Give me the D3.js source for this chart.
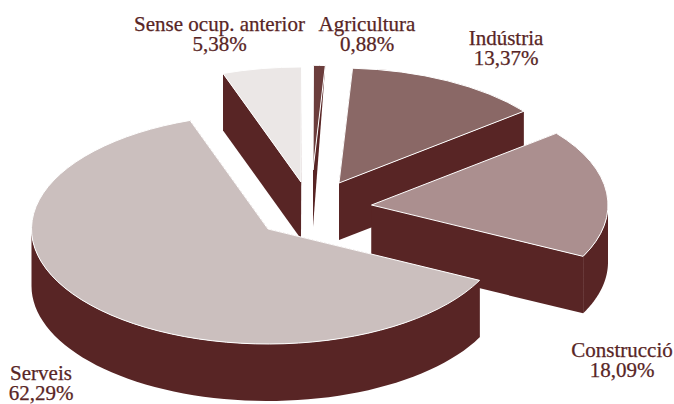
<!DOCTYPE html>
<html><head><meta charset="utf-8">
<script src="https://cdn.jsdelivr.net/npm/d3@7"></script>
<style>html,body{margin:0;padding:0;background:#fff}svg{display:block}</style>
</head><body><svg id="c" width="674" height="404"></svg>
<script>
const categories = ["Sense ocup. anterior","Agricultura","Indústria","Construcció","Serveis"];
const values = [5.38,0.88,13.37,18.09,62.29];
const valueLabels = ["5,38%","0,88%","13,37%","18,09%","62,29%"];
const colors = ["#ebe7e6","#6b3d3c","#8a6866","#ab8f8f","#cbbfbe"];
const sideColor = "#582525";
const apexX = [301,313,339,371.5,268];
const apexY = [182,170,183,205,229];
const radiusScale = [1,0.91,1,1,1];
const rimDepth = [57,0,57,57,57];
const labelX = [219.5,367,506,622,41];
const labelY = [31,31,45,357,380];

const RX=236.5, RY=115, DEPTH=57, START=-19.25*Math.PI/180;
const svg=d3.select("#c");
const arcs=d3.pie().sort(null).startAngle(START).endAngle(START+2*Math.PI)(values);
const arcGen=d3.arc().innerRadius(0).outerRadius(RX);
const px=(i,a)=>apexX[i]+radiusScale[i]*RX*Math.sin(a), py=(i,a)=>apexY[i]-radiusScale[i]*RY*Math.cos(a);
const line=d3.line();
arcs.forEach((d,i)=>{
  const g=svg.append("g");
  [d.startAngle,d.endAngle].forEach(a=>{
    const x=px(i,a),y=py(i,a);
    g.append("path").attr("fill",sideColor)
     .attr("d",line([[apexX[i],apexY[i]],[x,y],[x,y+rimDepth[i]],[apexX[i],apexY[i]+DEPTH]])+"Z");
  });
  const lo=Math.max(d.startAngle,Math.PI/2), hi=Math.min(d.endAngle,3*Math.PI/2);
  if(hi>lo){
    const n=60, angs=d3.range(n+1).map(k=>lo+(hi-lo)*k/n);
    const pts=angs.map(a=>[px(i,a),py(i,a)]).concat(angs.slice().reverse().map(a=>[px(i,a),py(i,a)+DEPTH]));
    g.append("path").attr("fill",sideColor).attr("d",line(pts)+"Z");
  }
  g.append("path").attr("fill",colors[i]).attr("stroke","#fff").attr("stroke-width",1)
   .attr("vector-effect","non-scaling-stroke")
   .attr("transform",`translate(${apexX[i]},${apexY[i]}) scale(${radiusScale[i]},${radiusScale[i]*RY/RX})`)
   .attr("d",arcGen(d));
});
categories.forEach((c,i)=>{
  const t=svg.append("text").attr("text-anchor","middle")
    .attr("font-family","'Liberation Serif',serif").attr("font-size",21).attr("fill",sideColor)
    .attr("stroke",sideColor).attr("stroke-width",0.25);
  t.append("tspan").attr("x",labelX[i]).attr("y",labelY[i]).text(c);
  t.append("tspan").attr("x",labelX[i]).attr("y",labelY[i]+20).text(valueLabels[i]);
});
</script></body></html>
